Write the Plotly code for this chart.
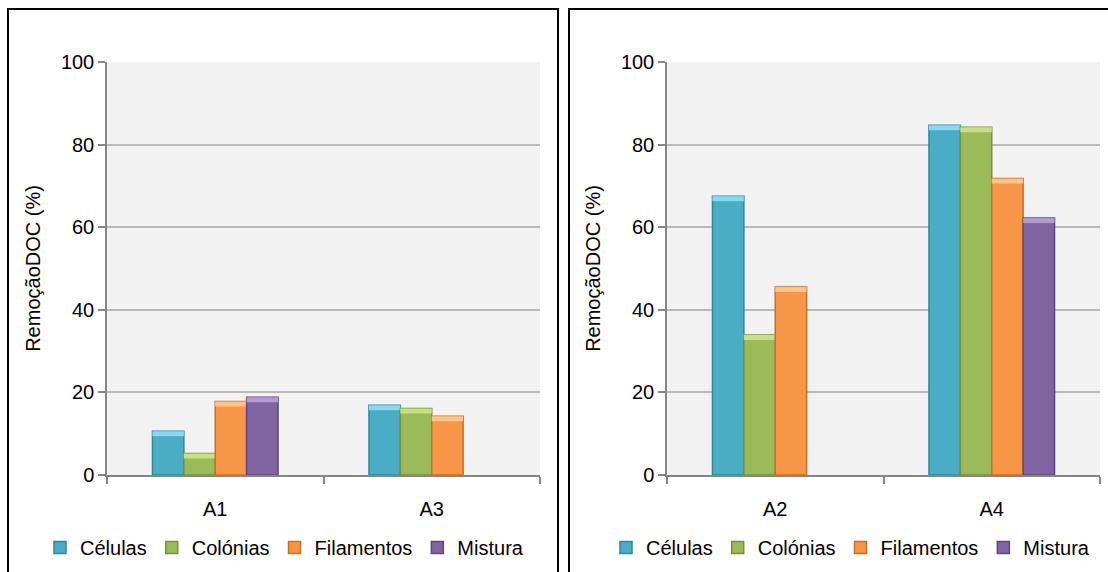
import plotly.graph_objects as go

# Dados de remoção de DOC (%) por tipo de morfologia
series = ["Células", "Colónias", "Filamentos", "Mistura"]
colors = ["#4BACC6", "#9BBB59", "#F79646", "#8064A2"]
edges = ["#31859C", "#76923C", "#C86E26", "#5F497A"]
caps = ["#86DAF0", "#C6E08A", "#FFC48A", "#B29AD2"]

cats_left = ["A1", "A3"]
cats_right = ["A2", "A4"]

celulas_left = [10.6, 16.9]
colonias_left = [5.2, 16.1]
filamentos_left = [17.8, 14.2]
mistura_left = [18.8, None]

celulas_right = [67.5, 84.7]
colonias_right = [33.9, 84.2]
filamentos_right = [45.5, 71.8]
mistura_right = [None, 62.2]

left_vals = [celulas_left, colonias_left, filamentos_left, mistura_left]
right_vals = [celulas_right, colonias_right, filamentos_right, mistura_right]

CAP = 1.2  # altura (em %) do realce no topo de cada barra

FONT = "Liberation Sans, Arial, sans-serif"
W, H = 1108, 572

fig = go.Figure()


def add_panel(cats, values, xa, ya, legend):
    for i, (name, col, edge, cap, vals) in enumerate(zip(series, colors, edges, caps, values)):
        grp = f"{xa}-{i}"
        fig.add_trace(go.Bar(
            x=cats, y=vals, name=name, xaxis=xa, yaxis=ya, offsetgroup=grp,
            marker=dict(color=col, line=dict(color=edge, width=1.5)),
            legend=legend, hoverinfo="x+y+name",
        ))
        # realce claro no topo da barra (efeito de bisel)
        cap_base = [None if v is None else v - CAP for v in vals]
        cap_h = [None if v is None else CAP for v in vals]
        fig.add_trace(go.Bar(
            x=cats, y=cap_h, base=cap_base, xaxis=xa, yaxis=ya, offsetgroup=grp,
            marker=dict(color=cap, line=dict(color=cap, width=0)),
            showlegend=False, hoverinfo="skip", legend=legend,
        ))


add_panel(cats_left, left_vals, "x", "y", "legend")
add_panel(cats_right, right_vals, "x2", "y2", "legend2")

ydom = [(572 - 475) / H, (572 - 62) / H]

xaxis_common = dict(
    type="category", showgrid=False, showline=True, linecolor="#868686", linewidth=1.5,
    ticks="outside", tickson="boundaries", ticklen=7, tickcolor="#868686", tickwidth=1.5,
    tickfont=dict(family=FONT, size=20, color="#000000"), ticklabelstandoff=15,
    fixedrange=True, automargin=False,
)
yaxis_common = dict(
    range=[0, 100], tickvals=[0, 20, 40, 60, 80, 100], showgrid=True,
    gridcolor="#B9B9B9", gridwidth=1.5, zeroline=False, showline=True,
    linecolor="#868686", linewidth=1.5, ticks="outside", ticklen=7,
    tickcolor="#868686", tickwidth=1.5,
    tickfont=dict(family=FONT, size=20, color="#000000"),
    title=dict(text="RemoçãoDOC (%)", font=dict(family=FONT, size=20, color="#000000"),
               standoff=15),
    fixedrange=True, automargin=False,
)

legend_common = dict(
    orientation="h", yanchor="bottom", xanchor="left", y=5 / H,
    font=dict(family=FONT, size=20, color="#000000"),
    bgcolor="rgba(0,0,0,0)", itemclick=False, itemdoubleclick=False,
)

fig.update_layout(
    width=W, height=H,
    margin=dict(l=0, r=0, t=0, b=0),
    paper_bgcolor="#FFFFFF",
    plot_bgcolor="#F2F2F2",
    barmode="group", bargap=0.42, bargroupgap=0,
    xaxis=dict(domain=[107 / W, 540 / W], anchor="y", **xaxis_common),
    yaxis=dict(domain=ydom, anchor="x", **yaxis_common),
    xaxis2=dict(domain=[667 / W, 1100 / W], anchor="y2", **xaxis_common),
    yaxis2=dict(domain=ydom, anchor="x2", **yaxis_common),
    legend=dict(x=40 / W, **legend_common),
    legend2=dict(x=606 / W, **legend_common),
    shapes=[
        dict(type="rect", xref="paper", yref="paper", x0=8 / W, x1=558 / W,
             y0=-0.02, y1=(572 - 9) / H, line=dict(color="#000000", width=2)),
        dict(type="rect", xref="paper", yref="paper", x0=569 / W, x1=1.02,
             y0=-0.02, y1=(572 - 9) / H, line=dict(color="#000000", width=2)),
    ],
)

fig.write_html("out.html")
